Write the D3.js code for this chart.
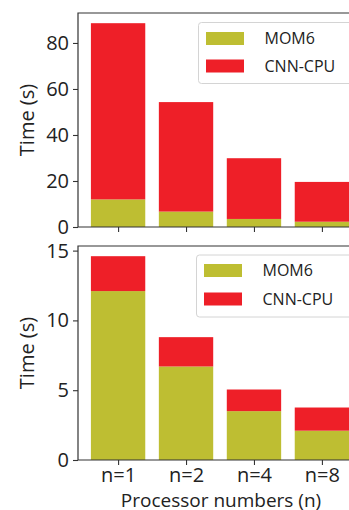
<!DOCTYPE html>
<html>
<head>
<meta charset="utf-8">
<script src="https://cdn.jsdelivr.net/npm/d3@7.9.0/dist/d3.min.js"></script>
<style>
  html, body { margin: 0; padding: 0; background: #fff; }
  svg { display: block; font-family: "Open Sans", sans-serif; }
</style>
</head>
<body>
<svg id="chart" width="349" height="510"></svg>
<script>
const categories = ['n=1', 'n=2', 'n=4', 'n=8'];
const seriesNames = ['MOM6', 'CNN-CPU'];
// top panel (seconds)
const topMom6 = [12.0, 6.7, 3.5, 2.3];
const topCnn = [76.6, 47.6, 26.4, 17.3];
const topTicks = [0, 20, 40, 60, 80];
// bottom panel (seconds)
const botMom6 = [12.1, 6.7, 3.5, 2.1];
const botCnn = [2.5, 2.1, 1.55, 1.66];
const botTicks = [0, 5, 10, 15];

const colors = { 'MOM6': '#bebe32', 'CNN-CPU': '#ee1f28' };
const axisColor = '#333';

const svg = d3.select('#chart');
const left = 78, right = 362;

function panel(top, bottom, mom6, cnn, ticks, showLabels, legendBox) {
  const g = svg.append('g');
  const totals = mom6.map((d, i) => d + cnn[i]);
  const y = d3.scaleLinear()
    .domain([0, d3.max(totals) * 1.05])
    .range([bottom, top]);
  // matplotlib-like positioning: bar width 0.8, 5% margins
  const x = d3.scaleLinear().domain([-0.59, 3.59]).range([left, right]);
  const bw = x(0.8) - x(0);

  const stackData = categories.map((c, i) => ({ c, i, 'MOM6': mom6[i], 'CNN-CPU': cnn[i] }));
  const stacked = d3.stack().keys(seriesNames)(stackData);

  g.selectAll('g.series')
    .data(stacked)
    .join('g')
    .attr('fill', (d) => colors[d.key])
    .selectAll('rect')
    .data((d) => d)
    .join('rect')
    .attr('x', (d) => x(d.data.i) - bw / 2)
    .attr('width', bw)
    .attr('y', (d) => y(d[1]))
    .attr('height', (d) => y(d[0]) - y(d[1]));

  // y axis
  const yAxis = g.append('g')
    .attr('transform', `translate(${left},0)`)
    .call(d3.axisLeft(y).tickValues(ticks).tickSize(5).tickPadding(4));
  yAxis.select('.domain').remove();
  yAxis.selectAll('line').attr('stroke', axisColor).attr('stroke-width', 1.1);
  yAxis.selectAll('text').attr('font-size', 20).attr('fill', '#222')
    .attr('font-family', '"Open Sans", sans-serif');

  // x axis
  const xAxis = g.append('g')
    .attr('transform', `translate(0,${bottom})`)
    .call(d3.axisBottom(x).tickValues(d3.range(categories.length))
      .tickFormat((i) => (showLabels ? categories[i] : ''))
      .tickSize(5).tickPadding(3));
  xAxis.select('.domain').remove();
  xAxis.selectAll('line').attr('stroke', axisColor).attr('stroke-width', 1.1);
  xAxis.selectAll('text').attr('font-size', 20).attr('fill', '#222')
    .attr('font-family', '"Open Sans", sans-serif');

  // spines
  g.append('path')
    .attr('d', `M${right},${top}H${left}V${bottom}H${right}V${top}`)
    .attr('fill', 'none')
    .attr('stroke', axisColor)
    .attr('stroke-width', 1.2);

  // y label
  g.append('text')
    .attr('transform', `translate(34,${(top + bottom) / 2}) rotate(-90)`)
    .attr('text-anchor', 'middle')
    .attr('font-size', 20)
    .attr('fill', '#222')
    .text('Time (s)');

  // legend
  const lg = g.append('g').attr('transform', `translate(${legendBox.x},${legendBox.y})`);
  lg.append('rect')
    .attr('width', 180).attr('height', legendBox.h)
    .attr('rx', 3)
    .attr('fill', 'rgba(255,255,255,0.85)')
    .attr('stroke', '#d4d4d4');
  seriesNames.forEach((name, k) => {
    const ry = legendBox.first + k * legendBox.step;
    lg.append('rect')
      .attr('x', 7.5).attr('y', ry)
      .attr('width', 38).attr('height', 13)
      .attr('fill', colors[name]);
    lg.append('text')
      .attr('x', 66).attr('y', ry + 6.5)
      .attr('dy', '0.35em')
      .attr('font-size', 16)
      .attr('fill', '#222')
      .text(name);
  });
}

panel(13, 227, topMom6, topCnn, topTicks, false, { x: 198.5, y: 22.5, h: 61, first: 9.5, step: 27.5 });
panel(246, 460, botMom6, botCnn, botTicks, true, { x: 196.5, y: 255, h: 62, first: 9, step: 28.5 });

svg.append('text')
  .attr('x', 221)
  .attr('y', 500)
  .attr('dy', '0.35em')
  .attr('text-anchor', 'middle')
  .attr('font-size', 19)
  .attr('fill', '#222')
  .text('Processor numbers (n)');
</script>
</body>
</html>
